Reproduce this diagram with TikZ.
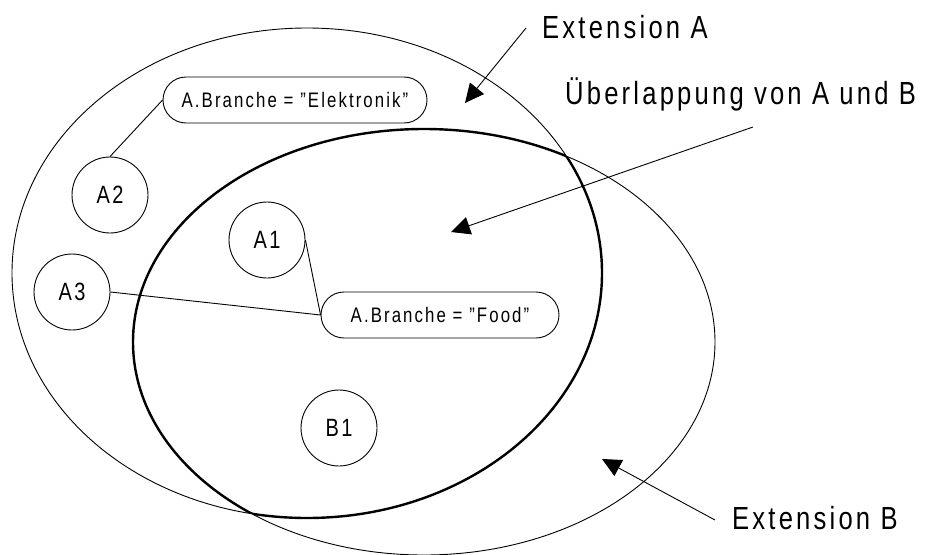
\documentclass[tikz,border=0pt]{standalone}
\usepackage{fontspec}
\setmainfont{Liberation Sans}[FakeStretch=0.8, LetterSpace=10]
\usetikzlibrary{shapes.misc,arrows.meta}
\newcommand\straightquote{\symbol{34}}
\begin{document}
\begin{tikzpicture}[x=1pt,y=-1pt,
  thinline/.style={line width=0.9pt},
  boldline/.style={line width=2.4pt},
  entity/.style={circle,draw,thinline,minimum size=76pt,inner sep=0pt,
    font=\fontsize{25}{30}\selectfont},
  predicate/.style={rounded rectangle,draw,thinline,minimum height=46pt,
    inner sep=0pt,font=\fontsize{21}{25}\selectfont},
  caption/.style={anchor=base west,inner sep=0pt,font=\fontsize{32}{38}\selectfont},
  pointer/.style={thinline,-{Triangle[length=19pt,width=18pt]}}]
\useasboundingbox (0,0) rectangle (936,554);

% the two extensions
\draw[thinline] (307,273) ellipse [x radius=295pt, y radius=245pt];
\draw[thinline] (424,342) ellipse [x radius=291pt, y radius=213pt];

% their overlap, outlined in bold
\begin{scope}
  \clip (307,273) ellipse [x radius=295pt, y radius=245pt];
  \draw[boldline] (424,342) ellipse [x radius=291pt, y radius=213pt];
\end{scope}
\begin{scope}
  \clip (424,342) ellipse [x radius=291pt, y radius=213pt];
  \draw[boldline] (307,273) ellipse [x radius=295pt, y radius=245pt];
\end{scope}

% objects
\node[entity] (A2) at (110,195) {A2};
\node[entity] (A1) at (267,240) {A1};
\node[entity] (A3) at (72,292) {A3};
\node[entity] (B1) at (339,428) {B1};

% predicates
\node[predicate,minimum width=264pt] (elek) at (295,100)
  {A.Branche = \straightquote Elektronik\straightquote};
\node[predicate,minimum width=238pt] (food) at (440,315)
  {A.Branche = \straightquote Food\straightquote};

\draw[thinline] (elek.west) -- (A2.north);
\draw[thinline] (A1.east) -- (food.west);
\draw[thinline] (A3.east) -- (food.west);

% captions with their pointers
\node[caption] (capA) at (542,38) {Extension A};
\node[caption] (capO) at (565,104) {Überlappung von A und B};
\node[caption] (capB) at (732,529) {Extension B};

\coordinate (sA) at (526,28);
\coordinate (tA) at (465,103);
\coordinate (sO) at (753,127);
\coordinate (tO) at (451,232);
\coordinate (sB) at (715,520);
\coordinate (tB) at (602,459);

\draw[pointer] (sA) -- (tA);
\draw[pointer] (sO) -- (tO);
\draw[pointer] (sB) -- (tB);
\end{tikzpicture}
\end{document}
